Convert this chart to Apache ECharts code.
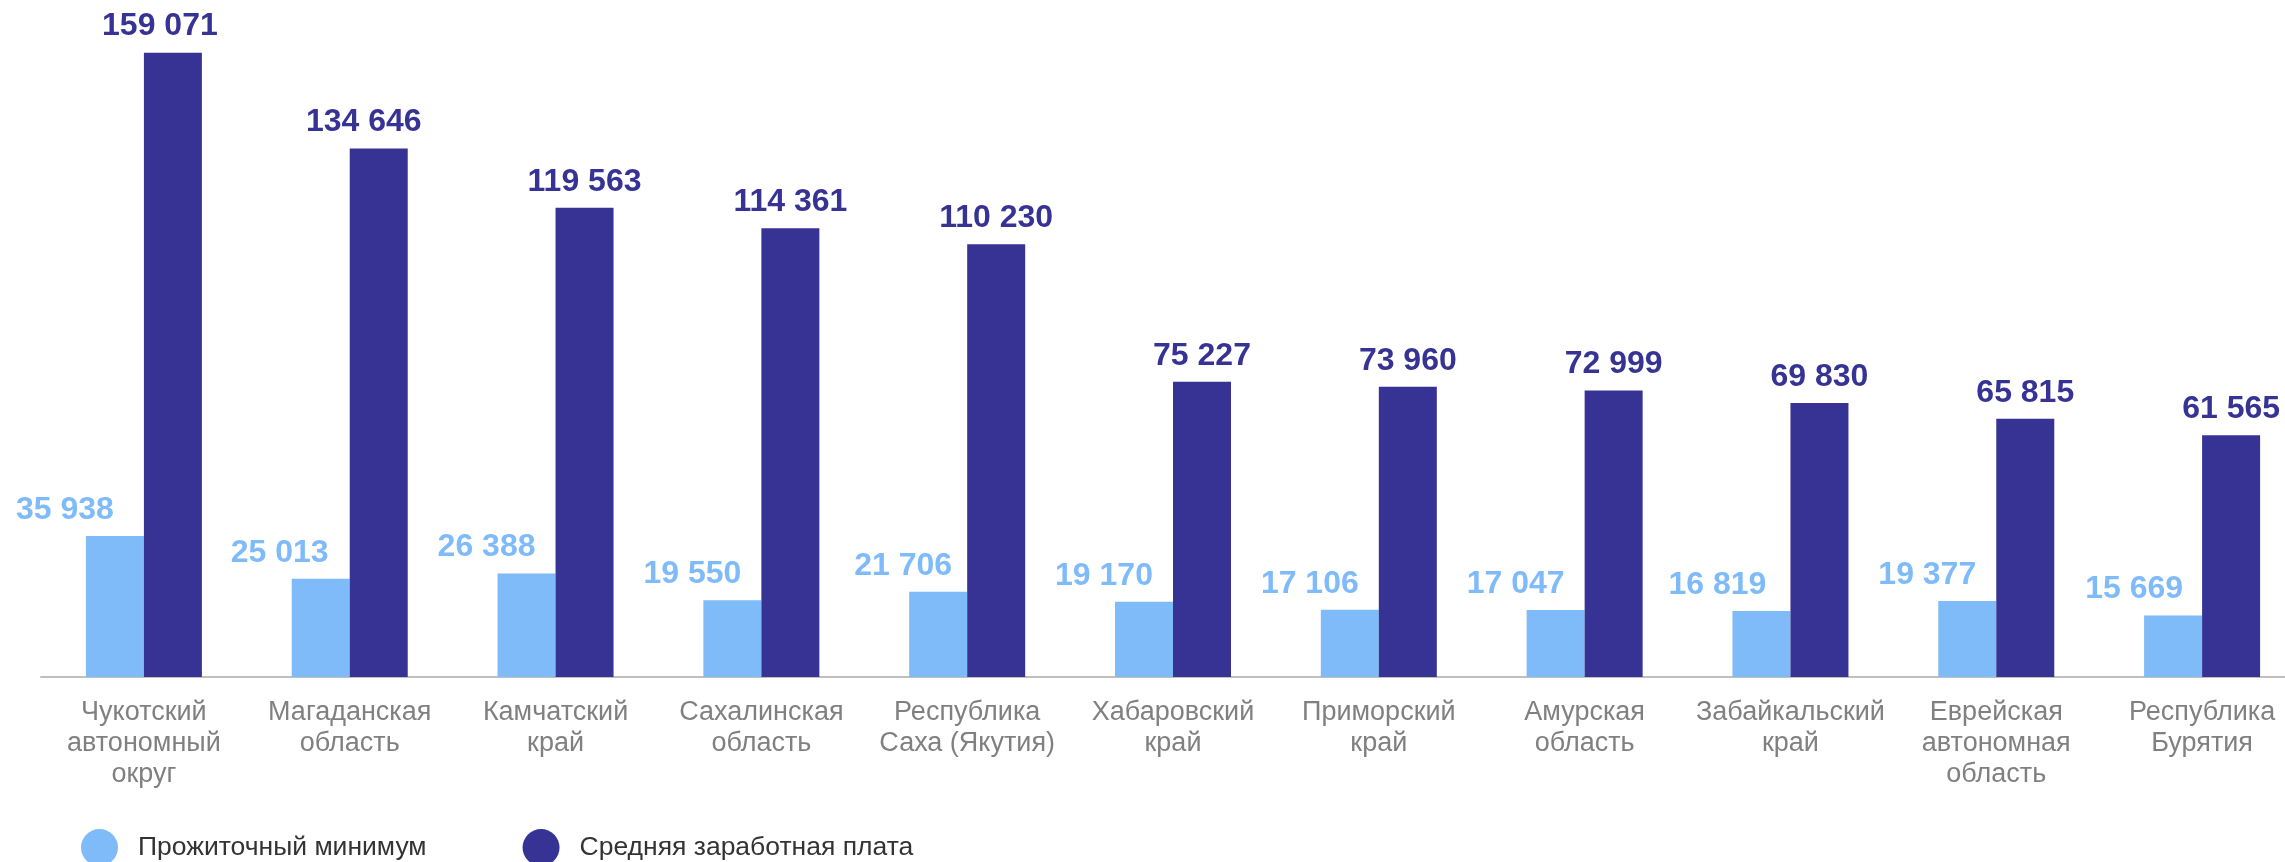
<!DOCTYPE html>
<html>
<head>
<meta charset="utf-8">
<script src="https://cdn.jsdelivr.net/npm/echarts@6/dist/echarts.min.js"></script>
<style>
html,body{margin:0;padding:0;background:#fff;}
#chart{width:2285px;height:862px;}
</style>
</head>
<body>
<div id="chart"></div>
<script>
const categories = [
  'Чукотский\nавтономный\nокруг',
  'Магаданская\nобласть',
  'Камчатский\nкрай',
  'Сахалинская\nобласть',
  'Республика\nСаха (Якутия)',
  'Хабаровский\nкрай',
  'Приморский\nкрай',
  'Амурская\nобласть',
  'Забайкальский\nкрай',
  'Еврейская\nавтономная\nобласть',
  'Республика\nБурятия'
];
const seriesNames = ['Прожиточный минимум', 'Средняя заработная плата'];
const minimumValues = [35938, 25013, 26388, 19550, 21706, 19170, 17106, 17047, 16819, 19377, 15669];
const salaryValues = [159071, 134646, 119563, 114361, 110230, 75227, 73960, 72999, 69830, 65815, 61565];

const LIGHT = '#7fbaf9';
const DARK = '#363394';
const fmt = v => String(v).replace(/\B(?=(\d{3})+(?!\d))/g, ' ');
const lightOffsets = [-50, -41, -40, -40, -35, -40, -40, -40, -44, -40, -39];
const darkOffsets = [-13, -15, 0, 0, 0, 0, 0, 0, 0, 0, 0];

const chart = echarts.init(document.getElementById('chart'), null, {renderer: 'canvas'});
chart.setOption({
  backgroundColor: '#ffffff',
  animation: false,
  grid: {left: 41, top: 49, right: -20, height: 628, containLabel: false, outerBoundsMode: 'none'},
  legend: {
    left: 81, top: 829, padding: 0,
    icon: 'circle', itemWidth: 37, itemHeight: 37, itemGap: 96,
    textStyle: {fontFamily: 'Liberation Sans', fontSize: 26.5, color: '#333333', padding: [0, 0, 0, 15]},
    data: seriesNames
  },
  xAxis: {
    type: 'category',
    data: categories,
    axisTick: {show: false},
    axisLine: {lineStyle: {color: '#bfbfbf', width: 2}},
    axisLabel: {
      interval: 0, margin: 20,
      fontFamily: 'Liberation Sans', fontSize: 27, lineHeight: 31,
      color: '#808080', align: 'center'
    }
  },
  yAxis: {type: 'value', min: 0, max: 160000, show: false, splitLine: {show: false}},
  series: [
    {
      name: seriesNames[0], type: 'bar', barWidth: 58, barGap: '0%',
      itemStyle: {color: LIGHT},
      label: {
        show: true, position: 'top', distance: 10,
        fontFamily: 'Liberation Sans', fontWeight: 'bold', fontSize: 32, color: LIGHT,
        formatter: p => fmt(p.value)
      },
      data: minimumValues.map((v, i) => ({value: v, label: {offset: [lightOffsets[i], 0]}}))
    },
    {
      name: seriesNames[1], type: 'bar', barWidth: 58, barGap: '0%',
      itemStyle: {color: DARK},
      label: {
        show: true, position: 'top', distance: 10,
        fontFamily: 'Liberation Sans', fontWeight: 'bold', fontSize: 32, color: DARK,
        formatter: p => fmt(p.value)
      },
      data: salaryValues.map((v, i) => ({value: v, label: {offset: [darkOffsets[i], 0]}}))
    }
  ]
});
</script>
</body>
</html>
